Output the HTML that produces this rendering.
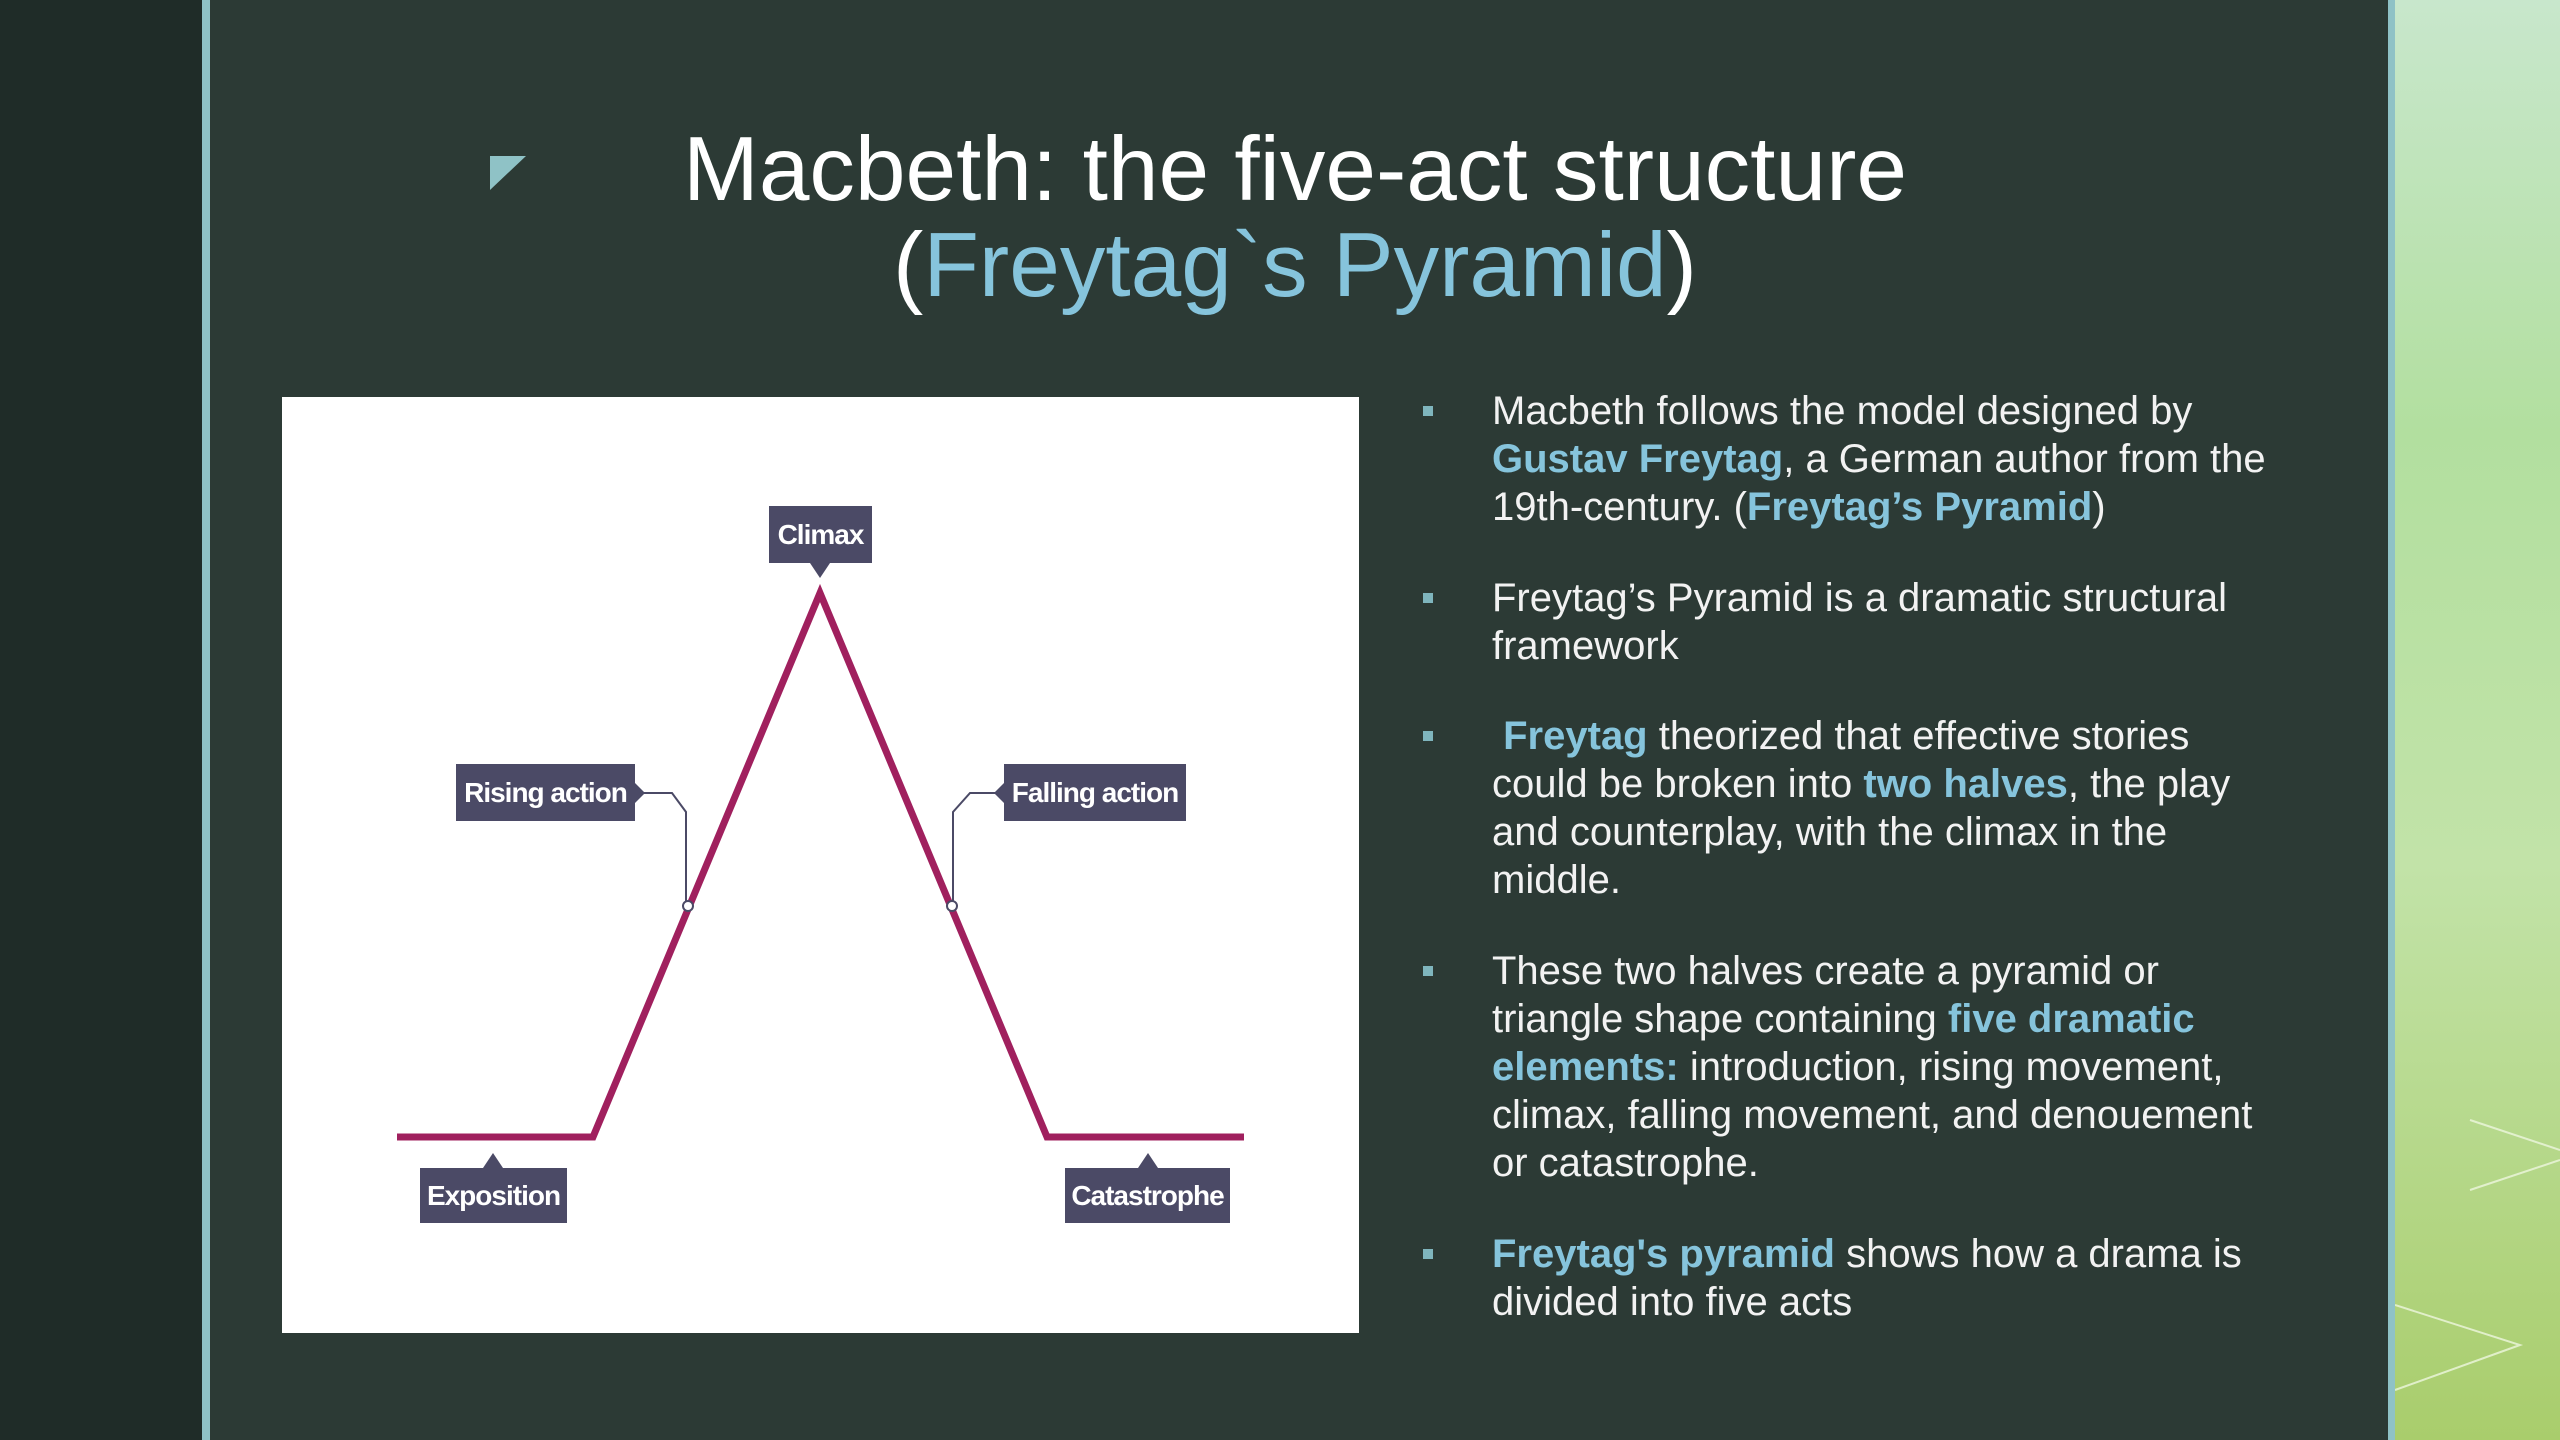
<!DOCTYPE html>
<html><head><meta charset="utf-8"><style>
*{margin:0;padding:0}
html,body{overflow:hidden}
body{width:2560px;height:1440px;position:relative;background:#2c3a35;font-family:"Liberation Sans",sans-serif}
.a{position:absolute}
.t{position:absolute;left:0;width:2590px;text-align:center;color:#fff;font-size:91px;line-height:96px;white-space:nowrap}
.b{color:#86c4dc}
.l{position:absolute;left:1492px;color:#f2f2f2;font-size:40px;line-height:48px;white-space:nowrap}
.l b{color:#86c4dc}
.sq{position:absolute;left:1423px;width:10px;height:10px;background:#7fb5bd}
.lab{position:absolute;background:#4b4a66;color:#fff;font-weight:bold;font-size:28px;letter-spacing:-1px;text-align:center;font-family:"Liberation Sans Narrow","Liberation Sans",sans-serif}
</style></head><body>
<div class="a" style="left:0;top:0;width:202px;height:1440px;background:#1f2c28"></div>
<div class="a" style="left:202px;top:0;width:8px;height:1440px;background:#8fc2c6"></div>
<div class="a" style="left:2388px;top:0;width:7px;height:1440px;background:#8fc2c6"></div>
<div class="a" style="left:2395px;top:0;width:165px;height:1440px;background:linear-gradient(180deg,#c8e7cc 0%,#b2df9f 30%,#c2e3a8 60%,#a9cd6c 100%)"></div>
<svg class="a" style="left:2395px;top:1080px" width="165" height="360"><g fill="none" stroke="#eef6df" stroke-width="2" opacity="0.8"><path d="M75 40 L165 70 M75 110 L165 80"/><path d="M0 225 L125 265 L0 310"/></g></svg>
<svg class="a" style="left:490px;top:156px" width="36" height="36"><polygon points="0,0 36,0 0,34" fill="#8fc2c6"/></svg>
<div class="t" style="top:122px">Macbeth: the five-act structure</div>
<div class="t" style="top:218px">(<span class="b">Freytag`s Pyramid</span>)</div>

<div class="a" style="left:282px;top:397px;width:1077px;height:936px;background:#fff"></div>
<svg class="a" style="left:0;top:0" width="2560" height="1440">
<polyline points="397,1137 593,1137 820,593 1047,1137 1244,1137" fill="none" stroke="#a0205e" stroke-width="7" stroke-linejoin="miter"/>
<polyline points="642,793 672,793 686,812 686,902" fill="none" stroke="#4b4a66" stroke-width="2"/>
<polyline points="998,793 970,793 953,812 953,902" fill="none" stroke="#4b4a66" stroke-width="2"/>
<circle cx="688" cy="906" r="5" fill="#fff" stroke="#4b4a66" stroke-width="2"/>
<circle cx="952" cy="906" r="5" fill="#fff" stroke="#4b4a66" stroke-width="2"/>
<polygon points="810,563 830,563 820,578" fill="#4b4a66"/>
<polygon points="635,783 645,793 635,803" fill="#4b4a66"/>
<polygon points="1004,783 994,793 1004,803" fill="#4b4a66"/>
<polygon points="483,1168 503,1168 493,1153" fill="#4b4a66"/>
<polygon points="1138,1168 1158,1168 1148,1153" fill="#4b4a66"/>
</svg>
<div class="lab" style="left:769px;top:506px;width:103px;height:57px;line-height:57px">Climax</div>
<div class="lab" style="left:456px;top:764px;width:179px;height:57px;line-height:57px">Rising action</div>
<div class="lab" style="left:1004px;top:764px;width:182px;height:57px;line-height:57px">Falling action</div>
<div class="lab" style="left:420px;top:1168px;width:147px;height:55px;line-height:55px">Exposition</div>
<div class="lab" style="left:1065px;top:1168px;width:165px;height:55px;line-height:55px">Catastrophe</div>

<div class="sq" style="top:406px"></div>
<div class="l" style="top:387px">Macbeth follows the model designed by</div>
<div class="l" style="top:435px"><b>Gustav Freytag</b>, a German author from the</div>
<div class="l" style="top:483px">19th-century. (<b>Freytag’s Pyramid</b>)</div>
<div class="sq" style="top:593px"></div>
<div class="l" style="top:574px">Freytag’s Pyramid is a dramatic structural</div>
<div class="l" style="top:622px">framework</div>
<div class="sq" style="top:731px"></div>
<div class="l" style="top:712px">&nbsp;<b>Freytag</b> theorized that effective stories</div>
<div class="l" style="top:760px">could be broken into <b>two halves</b>, the play</div>
<div class="l" style="top:808px">and counterplay, with the climax in the</div>
<div class="l" style="top:856px">middle.</div>
<div class="sq" style="top:966px"></div>
<div class="l" style="top:947px">These two halves create a pyramid or</div>
<div class="l" style="top:995px">triangle shape containing <b>five dramatic</b></div>
<div class="l" style="top:1043px"><b>elements:</b> introduction, rising movement,</div>
<div class="l" style="top:1091px">climax, falling movement, and denouement</div>
<div class="l" style="top:1139px">or catastrophe.</div>
<div class="sq" style="top:1249px"></div>
<div class="l" style="top:1230px"><b>Freytag's pyramid</b> shows how a drama is</div>
<div class="l" style="top:1278px">divided into five acts</div>
</body></html>
